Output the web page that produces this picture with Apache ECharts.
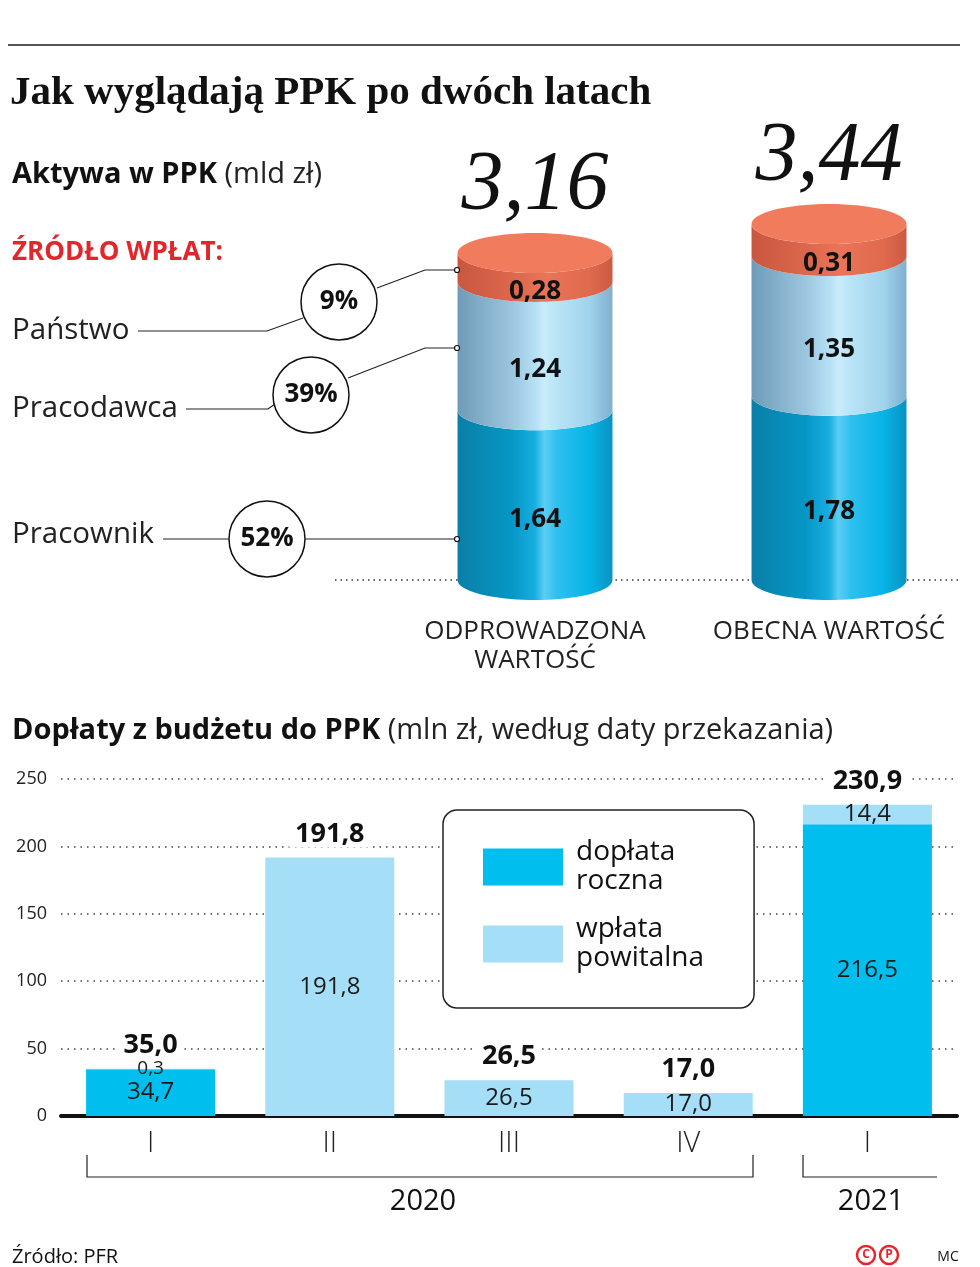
<!DOCTYPE html>
<html>
<head>
<meta charset="utf-8">
<script src="https://cdn.jsdelivr.net/npm/echarts@6/dist/echarts.min.js"></script>
<style>
html, body { margin: 0; background: #fff; }
#main { width: 980px; height: 1267px; }
</style>
</head>
<body>
<div id="main"></div>
<script>
// aktywa w PPK (mld zł)
const assetCats = ['ODPROWADZONA\nWARTOŚĆ', 'OBECNA WARTOŚĆ'];
const employee = [1.64, 1.78];   // Pracownik
const employer = [1.24, 1.35];   // Pracodawca
const state = [0.28, 0.31];      // Państwo
const assetTotals = [3.16, 3.44];
const shareLabels = ['52%', '39%', '9%'];

// dopłaty z budżetu (mln zł)
const quarters = ['I', 'II', 'III', 'IV', 'I'];
const annual = [34.7, null, null, null, 216.5];     // dopłata roczna
const welcome = [0.3, 191.8, 26.5, 17.0, 14.4];     // wpłata powitalna
const budgetTotals = [35.0, 191.8, 26.5, 17.0, 230.9];

const FONT = 'Open Sans';
const fmt = (v, d) => v.toFixed(d).replace('.', ',');

const RY = 20;
function arc(cx, cy, rx, ry, ltr) {
    const pts = [];
    for (let t = 0; t <= 40; t++) {
        const a = Math.PI * t / 40;
        pts.push([cx - rx * Math.cos(a), cy + ry * Math.sin(a)]);
    }
    return ltr ? pts : pts.reverse();
}
function grad(stops) {
    return new echarts.graphic.LinearGradient(0, 0, 1, 0,
        stops.map(s => ({ offset: s[0], color: s[1] })));
}
const sideColors = [
    [[0, '#0a7fa8'], [0.35, '#0697c6'], [0.5, '#17aee0'], [0.56, '#5ccdf3'], [0.64, '#2fc0ef'], [0.85, '#06b4e6'], [1, '#0a93c2']],
    [[0, '#6f9bb8'], [0.35, '#9cc6df'], [0.5, '#b4dff4'], [0.56, '#c9ecfb'], [0.64, '#b9e4f7'], [0.85, '#a0d3ec'], [1, '#7fb0cf']],
    [[0, '#c9573f'], [0.4, '#de694d'], [0.56, '#e97457'], [0.85, '#df6a4e'], [1, '#cc5a41']]
];

// stacked segments of the cylinders
const layers = [employee, employer, state];
const cum = [0, 0];
const layerData = layers.map(arr => arr.map((v, i) => {
    const d = [i, cum[i], cum[i] + v, v, assetTotals[i]];
    cum[i] += v;
    return d;
}));

function cylinderSeries(k) {
    const isTop = k === layers.length - 1;
    return {
        type: 'custom',
        xAxisIndex: 0,
        yAxisIndex: 0,
        z: 5,
        encode: { x: 0, y: [1, 2] },
        data: layerData[k],
        renderItem: function (params, api) {
            const i = api.value(0);
            const pLo = api.coord([i, api.value(1)]);
            const pHi = api.coord([i, api.value(2)]);
            const rx = api.size([1, 0])[0] * 0.527 / 2;
            const cx = pLo[0];
            const children = [{
                type: 'polygon',
                shape: { points: arc(cx, pLo[1], rx, RY, true).concat(arc(cx, pHi[1], rx, RY, false)) },
                style: { fill: grad(sideColors[k]) }
            }];
            if (isTop) {
                children.push({
                    type: 'ellipse',
                    shape: { cx: cx, cy: pHi[1], rx: rx, ry: RY },
                    style: { fill: '#f07b5d' }
                });
                children.push({
                    type: 'text',
                    style: {
                        text: fmt(api.value(4), 2), x: cx, y: pHi[1] - RY - 46,
                        align: 'center', verticalAlign: 'middle',
                        fontFamily: 'Liberation Serif', fontStyle: 'italic',
                        fontSize: 84, fill: '#111'
                    }
                });
            }
            children.push({
                type: 'text',
                style: {
                    text: fmt(api.value(3), 2), x: cx, y: (pLo[1] + pHi[1]) / 2 + RY + 4,
                    align: 'center', verticalAlign: 'middle',
                    fontFamily: FONT, fontWeight: 'bold', fontSize: 26, fill: '#111'
                }
            });
            return { type: 'group', children: children };
        }
    };
}

const line = (pts, z) => ({
    type: 'polyline', z: z || 1, shape: { points: pts },
    style: { stroke: '#222', lineWidth: 1.2, fill: null }
});
const ring = (cx, cy, label) => ({
    type: 'group', z: 3, children: [
        { type: 'circle', shape: { cx: cx, cy: cy, r: 38 }, style: { fill: '#fff', stroke: '#111', lineWidth: 1.5 } },
        { type: 'text', style: { text: label, x: cx, y: cy, align: 'center', verticalAlign: 'middle',
            fontFamily: FONT, fontWeight: 'bold', fontSize: 26, fill: '#111' } }
    ]
});
const dot = (x, y) => ({ type: 'circle', z: 8, shape: { cx: x, cy: y, r: 2.5 },
    style: { fill: '#fff', stroke: '#111', lineWidth: 1.2 } });
const txt = (x, y, text, size, extra) => ({
    type: 'text', z: 3,
    style: Object.assign({ text: text, x: x, y: y, verticalAlign: 'middle',
        fontFamily: FONT, fontSize: size, fill: '#222' }, extra || {})
});

const chart = echarts.init(document.getElementById('main'));

chart.setOption({
    backgroundColor: '#fff',
    animation: false,
    grid: [
        { left: 388, top: 166, width: 588, height: 414 },
        { left: 61, right: 23, top: 779, bottom: 151 }
    ],
    xAxis: [
        {
            type: 'category', gridIndex: 0, data: assetCats,
            axisLine: { show: false }, axisTick: { show: false },
            axisLabel: { interval: 0, margin: 37, fontFamily: FONT, fontSize: 26, lineHeight: 29, color: '#222' }
        },
        {
            type: 'category', gridIndex: 1, data: quarters,
            axisLine: { lineStyle: { color: '#111', width: 4 } },
            axisTick: { show: false },
            axisLabel: { interval: 0, margin: 13, fontFamily: FONT, fontSize: 29, fontWeight: 300, color: '#222' }
        }
    ],
    yAxis: [
        { type: 'value', gridIndex: 0, min: 0, max: 4, show: false },
        {
            type: 'value', gridIndex: 1, min: 0, max: 250, interval: 50,
            axisLine: { show: false }, axisTick: { show: false },
            axisLabel: { margin: 14, fontFamily: FONT, fontSize: 18, color: '#222' },
            splitLine: { lineStyle: { color: '#444', width: 1.5, type: [1.5, 5] } }
        }
    ],
    legend: {
        data: ['dopłata roczna', 'wpłata powitalna'],
        orient: 'vertical', left: 443, top: 810,
        itemWidth: 80, itemHeight: 37, itemGap: 19, icon: 'rect',
        padding: [28, 50, 35, 40],
        backgroundColor: '#fff', borderColor: '#222', borderWidth: 1.5, borderRadius: 14,
        selectedMode: false,
        formatter: name => name.replace(' ', '\n'),
        textStyle: { fontFamily: FONT, fontSize: 28, lineHeight: 29, color: '#111', padding: [0, 0, 0, 8] }
    },
    series: [
        cylinderSeries(0), cylinderSeries(1), cylinderSeries(2),
        {
            name: 'dopłata roczna', type: 'bar', stack: 'b', xAxisIndex: 1, yAxisIndex: 1,
            barWidth: '72%', itemStyle: { color: '#00bfef' }, data: annual,
            label: { show: true, position: 'inside', fontFamily: FONT, fontSize: 24, color: '#1a1a1a',
                formatter: p => fmt(p.value, 1) }
        },
        {
            name: 'wpłata powitalna', type: 'bar', stack: 'b', xAxisIndex: 1, yAxisIndex: 1,
            barWidth: '72%', itemStyle: { color: '#a5dff7' },
            data: welcome.map(v => v < 1 ? { value: v, label: { fontSize: 19 } } : v),
            label: { show: true, position: 'inside', fontFamily: FONT, fontSize: 24, color: '#1a1a1a',
                formatter: p => fmt(p.value, 1) }
        },
        {
            name: 'suma', type: 'bar', xAxisIndex: 1, yAxisIndex: 1, barGap: '-100%',
            barWidth: '72%', itemStyle: { color: 'transparent' }, data: budgetTotals,
            label: { show: true, position: 'top', distance: 10, fontFamily: FONT, fontWeight: 'bold',
                fontSize: 27, color: '#111', backgroundColor: '#fff', padding: [0, 6],
                formatter: p => fmt(p.value, 1) }
        }
    ],
    graphic: [
        { type: 'line', z: 3, shape: { x1: 8, y1: 45, x2: 960, y2: 45 }, style: { stroke: '#555', lineWidth: 2 } },
        txt(10, 93, 'Jak wyglądają PPK po dwóch latach', 41,
            { fontFamily: 'Liberation Serif', fontWeight: 'bold', fill: '#111' }),
        {
            type: 'text', z: 3,
            style: {
                text: '{b|Aktywa w PPK} (mld zł)', x: 12, y: 175, verticalAlign: 'middle',
                fontFamily: FONT, fontSize: 29, fill: '#222',
                rich: { b: { fontFamily: FONT, fontSize: 29, fontWeight: 'bold', fill: '#111' } }
            }
        },
        txt(12, 253, 'ŹRÓDŁO WPŁAT:', 26, { fontWeight: 'bold', fill: '#e3262b' }),
        txt(12, 331, 'Państwo', 29.5),
        txt(12, 409, 'Pracodawca', 29.5),
        txt(12, 535, 'Pracownik', 29.5),
        { type: 'line', z: 0, shape: { x1: 335, y1: 580, x2: 960, y2: 580 },
            style: { stroke: '#333', lineWidth: 1.5, lineDash: [1.5, 4] } },
        line([[138, 331], [267, 331], [303, 318]]),
        line([[377, 288], [425, 270], [457, 270]]),
        line([[186, 409], [268, 409], [275, 404]]),
        line([[348, 378], [425, 348], [457, 348]]),
        line([[163, 539], [229, 539]]),
        line([[305, 539], [457, 539]]),
        ring(339, 302, shareLabels[2]),
        ring(311, 395, shareLabels[1]),
        ring(267, 539, shareLabels[0]),
        dot(457, 270), dot(457, 348), dot(457, 539),
        {
            type: 'text', z: 3,
            style: {
                text: '{b|Dopłaty z budżetu do PPK} (mln zł, według daty przekazania)', x: 12, y: 731,
                verticalAlign: 'middle', fontFamily: FONT, fontSize: 29, fill: '#222',
                rich: { b: { fontFamily: FONT, fontSize: 29, fontWeight: 'bold', fill: '#111' } }
            }
        },
        line([[87, 1155], [87, 1177], [753, 1177], [753, 1155]]),
        line([[803, 1155], [803, 1177], [937, 1177]]),
        txt(423, 1202, '2020', 29, { align: 'center', fill: '#111' }),
        txt(871, 1202, '2021', 29, { align: 'center', fill: '#111' }),
        txt(12, 1257, 'Źródło: PFR', 20, { fill: '#111' }),
        { type: 'circle', z: 3, shape: { cx: 866, cy: 1255, r: 9 }, style: { fill: '#fff', stroke: '#e3262b', lineWidth: 2.5 } },
        txt(866, 1255, 'C', 12, { align: 'center', fontWeight: 'bold', fill: '#e3262b' }),
        { type: 'circle', z: 3, shape: { cx: 889, cy: 1255, r: 9 }, style: { fill: '#fff', stroke: '#e3262b', lineWidth: 2.5 } },
        txt(889, 1255, 'P', 12, { align: 'center', fontWeight: 'bold', fill: '#e3262b' }),
        txt(948, 1257, 'MC', 14, { align: 'center', fill: '#111' })
    ]
});
</script>
</body>
</html>
